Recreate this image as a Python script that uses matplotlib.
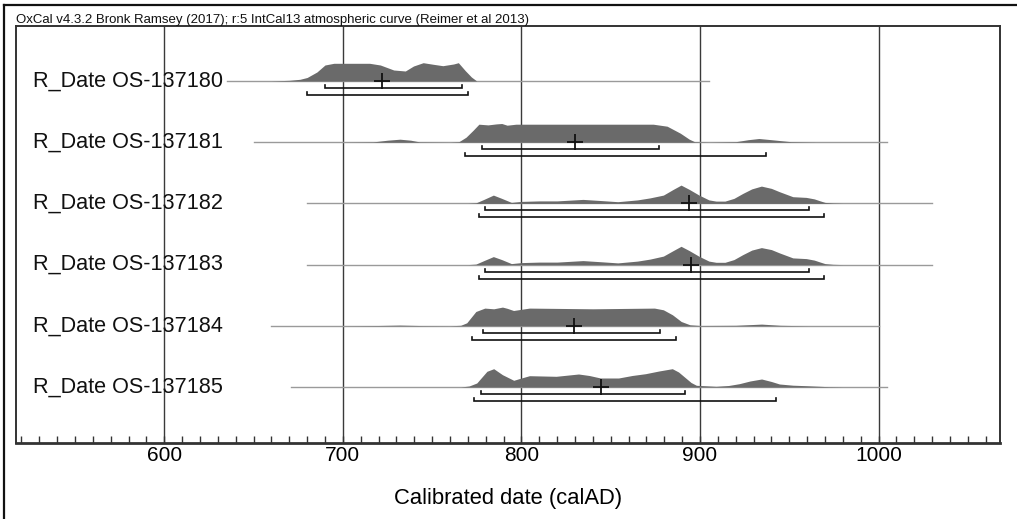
import matplotlib
matplotlib.use("Agg")
import matplotlib.pyplot as plt
from matplotlib.lines import Line2D
import matplotlib.transforms as mtransforms
import numpy as np

plt.rcParams['font.family'] = ['Liberation Sans', 'DejaVu Sans']

# ---------------- data ----------------
header = "OxCal v4.3.2 Bronk Ramsey (2017); r:5 IntCal13 atmospheric curve (Reimer et al 2013)"
xlabel = "Calibrated date (calAD)"
labels = ["R_Date OS-137180", "R_Date OS-137181", "R_Date OS-137182",
          "R_Date OS-137183", "R_Date OS-137184", "R_Date OS-137185"]

# probability distributions (calendar year, relative probability)
dist_180 = [[660, 0], [670, 0.7], [676, 1.7], [680, 3.5], [685.5, 9], [690, 16], [695, 17.7],
            [715, 17.7], [721, 16], [728.5, 11], [735, 10], [739.6, 15], [745, 18.3],
            [750.7, 16.7], [756, 15.3], [762, 17], [764.7, 18.3], [768.6, 10.3], [772, 4], [775, 0]]
dist_181 = [[700, 0], [717, 0.3], [725, 2], [732, 3], [738, 2], [743, 0.3], [760, 0], [765, 0.5],
            [769, 5], [773, 12], [776.2, 18], [781.3, 17.3], [786, 18.3], [789, 18.7], [792, 17],
            [797, 18], [830, 18], [873.8, 18], [881.6, 16], [889, 9], [894, 3], [897, 0.5],
            [905, 0], [920, 0.5], [927, 2.5], [933, 3.7], [940, 2.5], [951, 0.5], [965, 0]]
dist_182 = [[770, 0], [774.5, 0.5], [779, 4], [784.3, 8.3], [789, 5], [794.4, 1], [800, 2],
            [810, 2.5], [820, 2.5], [834.5, 4], [845, 2.8], [854, 1.7], [865, 3.5], [872, 5.5],
            [879.5, 8.3], [885, 14], [889.4, 18.3], [894, 14], [899.5, 8.3], [905, 3.5],
            [909, 2.3], [914, 2.3], [919, 5], [924, 10], [929, 14.5], [934.4, 17.3], [940, 15],
            [944.5, 11.7], [952, 6.7], [959.5, 6], [964, 4.5], [967, 2.7], [970, 1],
            [974.5, 0.3], [980, 0]]
dist_183 = [[770, 0], [774.5, 0.5], [779, 4], [784.3, 8.0], [789, 5], [794.4, 1], [800, 2],
            [810, 2.5], [820, 2.5], [834.5, 4], [845, 2.8], [854, 1.7], [865, 3.5], [872, 5.5],
            [879.5, 8.5], [885, 14], [889.4, 18.3], [894, 14], [899.5, 8.3], [905, 3.5],
            [909, 2.3], [914, 2.3], [919, 5], [924, 10], [929, 14.5], [934.4, 17.0], [940, 15],
            [944.5, 11.7], [952, 6.7], [959.5, 6], [964, 4.5], [967, 2.7], [970, 1],
            [974.5, 0.3], [980, 0]]
dist_184 = [[700, 0], [720, 0.3], [732, 0.7], [745, 0.2], [760, 0], [766, 0.5], [769.4, 3],
            [774.5, 14.3], [779.5, 17.7], [784.5, 17], [789.4, 18.7], [792, 17.5], [795.6, 15.3],
            [800, 16.5], [804.5, 17.7], [840, 17], [874.5, 17.7], [879.5, 16], [884.6, 11],
            [889.5, 4.3], [894.4, 1], [900, 0.3], [920, 0.5], [934.5, 1.7], [945, 0.5], [960, 0]]
dist_185 = [[766, 0], [770.7, 1], [775, 4], [780.7, 15.7], [784.5, 18.3], [789.4, 12.3],
            [795.7, 6.7], [800, 9], [804.5, 11.3], [819.5, 10.7], [832, 13], [838, 11.5],
            [844.3, 9], [854.4, 9], [862, 11.5], [869.5, 13.3], [877, 16], [884.5, 18.3],
            [888, 15], [892, 9], [895, 4.5], [898, 1.7], [909, 0.7], [916, 1.5], [922, 3.3],
            [928, 6], [934.5, 8], [940, 5.5], [944.5, 3], [952, 1.8], [959.5, 1.3], [966, 0.8],
            [972, 0.3], [980, 0]]
dists = [dist_180, dist_181, dist_182, dist_183, dist_184, dist_185]

# plotted calendar range of each date
ranges = [(635, 905), (650, 1005), (680, 1030), (680, 1030), (660, 1000), (671, 1005)]
# mean (+)
means = [722, 830, 894, 895, 829.5, 844.5]
# 68.2% and 95.4% ranges
r68 = [(690, 767), (778, 877), (779.4, 960.8), (779.4, 960.8), (778.7, 877.5), (777.4, 891.5)]
r95 = [(680, 770), (768.5, 937), (776.2, 969.5), (776.2, 969.5), (772.6, 886.8), (773.7, 942.7)]

major_ticks = [600, 700, 800, 900, 1000]
xlim = (517, 1068)

# ---------------- figure ----------------
W, H = 1017, 519
fig = plt.figure(figsize=(W / 100, H / 100), dpi=100)
ax = fig.add_axes([16 / W, (H - 443) / H, 984 / W, 417 / H])

row_px = 61.2
ax.set_xlim(*xlim)
ax.set_ylim((443 - 81) / row_px, (26 - 81) / row_px)

hscale = 1.0 / row_px   # relative probability -> row units
dist_color = '#6a6a6a'

for g in major_ticks:
    ax.axvline(g, color='#3a3a3a', lw=1.0, zorder=1)

trans = mtransforms.blended_transform_factory(ax.transAxes, ax.transData)
for i, (lab, d) in enumerate(zip(labels, dists)):
    d = np.array(d, dtype=float)
    x0, x1 = ranges[i]
    ax.plot([x0, x1], [i, i], color='#9a9a9a', lw=1.0, zorder=2)
    ax.fill_between(d[:, 0], i, i - d[:, 1] * hscale, color=dist_color, lw=0, zorder=3)
    tk = 3 / row_px
    for (a, b), off in ((r68[i], 7 / row_px), (r95[i], 14 / row_px)):
        y = i + off
        ax.plot([a, a, b, b], [y - tk, y, y, y - tk], color='#111111', lw=1.2, zorder=4,
                solid_joinstyle='miter')
    ax.plot([means[i]], [i], marker='+', markersize=11, mew=1.3, color='#111111', zorder=5)
    ax.text(17 / 984, i, lab, transform=trans, ha='left', va='center', fontsize=15.6,
            color='#111111', zorder=6)

ax.set_xticks(major_ticks)
ax.set_xticklabels([str(t) for t in major_ticks])
ax.set_xticks(np.arange(520, 1061, 10), minor=True)
ax.tick_params(axis='x', which='both', direction='in', length=5, width=1, color='#333333',
               labelsize=15, pad=2)
ax.tick_params(axis='y', left=False, labelleft=False)
for s in ax.spines.values():
    s.set_color('#333333')
    s.set_linewidth(1.4)
ax.spines['bottom'].set_linewidth(2.0)
ax.set_xlabel(xlabel, fontsize=15.8, labelpad=17)

fig.text(16 / W, 1 - 23 / H, header, fontsize=9.5, ha='left', va='baseline', color='#111111')

# outer frame
fig.add_artist(Line2D([4 / W, 4 / W], [0, 1 - 5 / H], transform=fig.transFigure,
                      color='#111111', lw=1.6))
fig.add_artist(Line2D([4 / W, 1], [1 - 5 / H, 1 - 5 / H], transform=fig.transFigure,
                      color='#111111', lw=1.6))

fig.savefig("out.png", dpi=100)
